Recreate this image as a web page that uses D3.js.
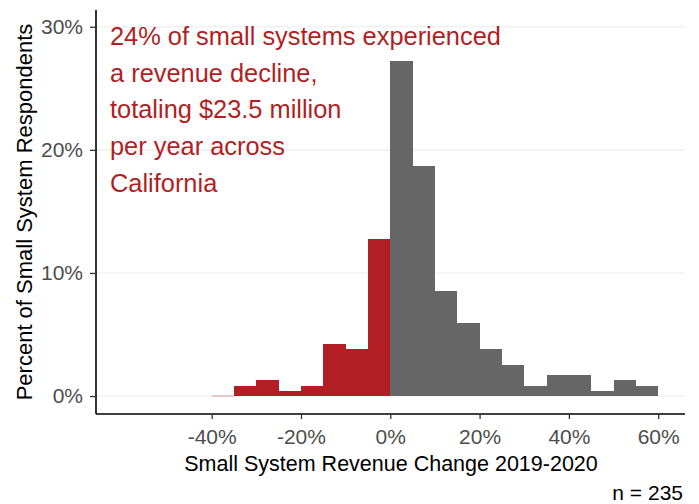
<!DOCTYPE html>
<html>
<head>
<meta charset="utf-8">
<script src="https://cdn.jsdelivr.net/npm/d3@7"></script>
<style>
  body { margin: 0; background: #fff; }
  svg text { font-family: "Liberation Sans", Arial, sans-serif; }
</style>
</head>
<body>
<div id="chart"></div>
<script>
// bin start (revenue change, %), bins are 5 points wide
var binStart = [-40, -35, -30, -25, -20, -15, -10, -5, 0, 5, 10, 15, 20, 25, 30, 35, 40, 45, 50, 55];
// share of respondents in each bin (%)
var binPct = [0, 0.85, 1.28, 0.43, 0.85, 4.26, 3.83, 12.77,
              27.23, 18.72, 8.51, 5.96, 3.83, 2.55, 0.85, 1.70, 1.70, 0.43, 1.28, 0.85];
var xTicks = [-40, -20, 0, 20, 40, 60];
var yTicks = [0, 10, 20, 30];
var noteLines = [
    '24% of small systems experienced',
    'a revenue decline,',
    'totaling $23.5 million',
    'per year across',
    'California'
];
var binWidth = 5;

var chart_width = 699;
var chart_height = 504;
var red = '#b11f24';
var grey = '#666666';

var data = binStart.map(function(d, i) {
    return { x0: d, x1: d + binWidth, pct: binPct[i] };
});

var svg = d3.select('#chart')
    .append('svg')
    .attr('width', chart_width)
    .attr('height', chart_height);

// panel runs 96..685 wide, 10..414 tall
var xScale = d3.scaleLinear()
    .domain([-65.9, 66])
    .range([96, 685]);

var yScale = d3.scaleLinear()
    .domain([-1.46, 31.36])
    .range([414, 10]);

// gridlines
svg.selectAll('line.grid')
    .data(yTicks)
    .enter()
    .append('line')
    .attr('class', 'grid')
    .attr('x1', 96)
    .attr('x2', 685)
    .attr('y1', function(d) { return yScale(d); })
    .attr('y2', function(d) { return yScale(d); })
    .attr('stroke', '#ebebeb')
    .attr('stroke-width', 1.1);

// bars
svg.selectAll('rect.bar')
    .data(data.filter(function(d) { return d.pct > 0; }))
    .enter()
    .append('rect')
    .attr('class', 'bar')
    .attr('x', function(d) { return xScale(d.x0); })
    .attr('width', function(d) { return xScale(d.x1) - xScale(d.x0); })
    .attr('y', function(d) { return yScale(d.pct); })
    .attr('height', function(d) { return yScale(0) - yScale(d.pct); })
    .attr('fill', function(d) { return d.x0 < 0 ? red : grey; })
    .attr('shape-rendering', 'crispEdges');

// empty bins still leave a faint line
svg.selectAll('line.empty')
    .data(data.filter(function(d) { return d.pct === 0; }))
    .enter()
    .append('line')
    .attr('class', 'empty')
    .attr('x1', function(d) { return xScale(d.x0); })
    .attr('x2', function(d) { return xScale(d.x1); })
    .attr('y1', yScale(0))
    .attr('y2', yScale(0))
    .attr('stroke', '#d49a9d')
    .attr('stroke-width', 1);

// axes
var xAxis = d3.axisBottom(xScale)
    .tickValues(xTicks)
    .tickSize(5)
    .tickPadding(10)
    .tickFormat(function(d) { return d + '%'; });

var yAxis = d3.axisLeft(yScale)
    .tickValues(yTicks)
    .tickSize(6)
    .tickPadding(7)
    .tickFormat(function(d) { return d + '%'; });

var gx = svg.append('g')
    .attr('transform', 'translate(0,414)')
    .call(xAxis);

var gy = svg.append('g')
    .attr('transform', 'translate(96,0)')
    .call(yAxis);

[gx, gy].forEach(function(g) {
    g.select('.domain').attr('stroke', '#000').attr('stroke-width', 1.6);
    g.selectAll('.tick line').attr('stroke', '#333').attr('stroke-width', 1.3);
    g.selectAll('.tick text')
        .attr('fill', '#4d4d4d')
        .style('font-size', '21px')
        .style('font-family', '"Liberation Sans", Arial, sans-serif');
});
gx.select('.domain').attr('d', 'M96,0H685');
gy.select('.domain').attr('d', 'M0,10V414');

// axis titles
svg.append('text')
    .text('Small System Revenue Change 2019-2020')
    .attr('x', 391)
    .attr('y', 471)
    .attr('text-anchor', 'middle')
    .attr('fill', '#000')
    .style('font-size', '21.5px');

svg.append('text')
    .text('Percent of Small System Respondents')
    .attr('transform', 'translate(32,212) rotate(-90)')
    .attr('text-anchor', 'middle')
    .attr('fill', '#000')
    .style('font-size', '22px');

svg.append('text')
    .text('n = 235')
    .attr('x', 683)
    .attr('y', 500)
    .attr('text-anchor', 'end')
    .attr('fill', '#000')
    .style('font-size', '21px');

// annotation
svg.selectAll('text.note')
    .data(noteLines)
    .enter()
    .append('text')
    .attr('class', 'note')
    .text(function(d) { return d; })
    .attr('x', 110)
    .attr('y', function(d, i) { return 45 + i * 36.7; })
    .attr('fill', red)
    .style('font-size', '25.4px');
</script>
</body>
</html>
